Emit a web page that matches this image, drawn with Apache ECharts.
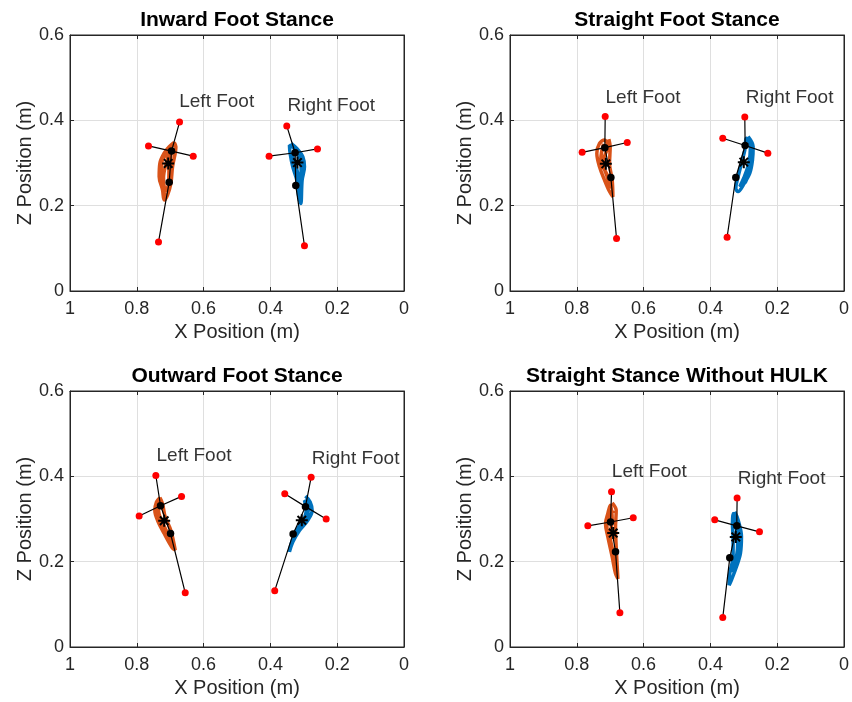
<!DOCTYPE html>
<html>
<head>
<meta charset="utf-8">
<script src="https://cdn.jsdelivr.net/npm/echarts@6/dist/echarts.min.js"></script>
<style>
  html, body { margin: 0; padding: 0; background: #fff; }
  #chart { width: 852px; height: 702px; }
</style>
</head>
<body>
<div id="chart"></div>
<script>
// Panel titles and foot labels
const titles = ['Inward Foot Stance', 'Straight Foot Stance', 'Outward Foot Stance', 'Straight Stance Without HULK'];
const footNames = ['Left Foot', 'Right Foot'];

// Axis ranges and tick step (metres)
const xRange = [0, 1];
const zRange = [0, 0.6];
const tickStep = 0.2;

// Marker positions [x, z] for each foot.
// ends: toe, heel  |  sides: medial/lateral  |  joints: front, rear  |  centre: mean position
const inwardLeftEnds = [[0.672, 0.396], [0.735, 0.115]];
const inwardLeftSides = [[0.765, 0.340], [0.631, 0.316]];
const inwardLeftJoints = [[0.696, 0.328], [0.703, 0.255]];
const inwardLeftCentre = [0.706, 0.299];
const inwardRightEnds = [[0.351, 0.387], [0.298, 0.106]];
const inwardRightSides = [[0.404, 0.316], [0.259, 0.333]];
const inwardRightJoints = [[0.326, 0.324], [0.324, 0.247]];
const inwardRightCentre = [0.319, 0.301];

const straightLeftEnds = [[0.715, 0.409], [0.681, 0.123]];
const straightLeftSides = [[0.784, 0.325], [0.649, 0.348]];
const straightLeftJoints = [[0.716, 0.336], [0.698, 0.266]];
const straightLeftCentre = [0.713, 0.298];
const straightRightEnds = [[0.297, 0.408], [0.350, 0.126]];
const straightRightSides = [[0.363, 0.358], [0.228, 0.323]];
const straightRightJoints = [[0.296, 0.341], [0.324, 0.266]];
const straightRightCentre = [0.300, 0.302];

const outwardLeftEnds = [[0.743, 0.402], [0.655, 0.127]];
const outwardLeftSides = [[0.793, 0.307], [0.666, 0.353]];
const outwardLeftJoints = [[0.729, 0.331], [0.699, 0.266]];
const outwardLeftCentre = [0.718, 0.296];
const outwardRightEnds = [[0.278, 0.398], [0.387, 0.132]];
const outwardRightSides = [[0.357, 0.359], [0.233, 0.300]];
const outwardRightJoints = [[0.295, 0.329], [0.332, 0.265]];
const outwardRightCentre = [0.306, 0.297];

const noHulkLeftEnds = [[0.696, 0.364], [0.671, 0.080]];
const noHulkLeftSides = [[0.767, 0.284], [0.631, 0.303]];
const noHulkLeftJoints = [[0.699, 0.293], [0.684, 0.223]];
const noHulkLeftCentre = [0.691, 0.267];
const noHulkRightEnds = [[0.320, 0.349], [0.363, 0.069]];
const noHulkRightSides = [[0.387, 0.298], [0.253, 0.270]];
const noHulkRightJoints = [[0.321, 0.284], [0.342, 0.209]];
const noHulkRightCentre = [0.324, 0.258];

// Foot label anchor positions [x, z]
const inwardLabels = [[0.673, 0.444], [0.349, 0.434]];
const straightLabels = [[0.714, 0.454], [0.294, 0.454]];
const outwardLabels = [[0.741, 0.448], [0.276, 0.441]];
const noHulkLabels = [[0.695, 0.410], [0.318, 0.395]];

// Recorded position traces [x, z]
const inwardLeftTrace = [[0.688,0.348],[0.683,0.338],[0.693,0.291],[0.698,0.252],[0.708,0.225],[0.718,0.213],[0.723,0.237],[0.733,0.268],[0.731,0.299],[0.718,0.323],[0.703,0.338],[0.688,0.348],[0.700,0.330],[0.712,0.300],[0.720,0.265],[0.714,0.235],[0.705,0.250],[0.703,0.290],[0.695,0.330],[0.722,0.310],[0.727,0.280],[0.716,0.222]];
const inwardRightTrace = [[0.338,0.346],[0.321,0.334],[0.303,0.315],[0.298,0.291],[0.305,0.260],[0.309,0.205],[0.315,0.221],[0.321,0.260],[0.333,0.291],[0.341,0.323],[0.343,0.342],[0.330,0.335],[0.312,0.310],[0.308,0.280],[0.313,0.240],[0.311,0.215],[0.318,0.275],[0.336,0.320]];
const straightLeftTrace = [[0.704,0.356],[0.700,0.338],[0.702,0.299],[0.694,0.260],[0.692,0.221],[0.702,0.233],[0.717,0.260],[0.732,0.291],[0.740,0.323],[0.732,0.346],[0.717,0.354],[0.708,0.340],[0.722,0.300],[0.710,0.270],[0.698,0.240],[0.705,0.265],[0.728,0.310],[0.720,0.345]];
const straightRightTrace = [[0.287,0.362],[0.272,0.338],[0.274,0.307],[0.282,0.276],[0.302,0.248],[0.317,0.233],[0.324,0.241],[0.317,0.268],[0.307,0.299],[0.297,0.330],[0.292,0.358],[0.280,0.340],[0.285,0.300],[0.300,0.265],[0.312,0.245],[0.295,0.255],[0.280,0.290],[0.278,0.330]];
const outwardLeftTrace = [[0.731,0.350],[0.723,0.336],[0.715,0.305],[0.698,0.273],[0.685,0.227],[0.695,0.234],[0.718,0.266],[0.738,0.297],[0.746,0.320],[0.741,0.340],[0.731,0.350],[0.735,0.320],[0.725,0.295],[0.705,0.262],[0.690,0.235],[0.700,0.255],[0.730,0.300],[0.740,0.330]];
const outwardRightTrace = [[0.295,0.354],[0.281,0.340],[0.275,0.320],[0.288,0.297],[0.313,0.273],[0.333,0.246],[0.343,0.223],[0.338,0.242],[0.323,0.266],[0.303,0.293],[0.293,0.320],[0.298,0.344],[0.285,0.325],[0.300,0.300],[0.325,0.270],[0.338,0.240],[0.318,0.275],[0.282,0.315]];
const noHulkLeftTrace = [[0.694,0.338],[0.682,0.320],[0.684,0.281],[0.682,0.234],[0.677,0.160],[0.684,0.172],[0.694,0.211],[0.707,0.258],[0.714,0.289],[0.707,0.313],[0.700,0.332],[0.694,0.300],[0.700,0.260],[0.690,0.220],[0.680,0.190],[0.688,0.200],[0.702,0.245],[0.710,0.285],[0.690,0.320]];
const noHulkRightTrace = [[0.327,0.317],[0.317,0.298],[0.307,0.259],[0.310,0.220],[0.322,0.188],[0.337,0.157],[0.344,0.145],[0.342,0.173],[0.332,0.212],[0.332,0.251],[0.334,0.290],[0.332,0.313],[0.325,0.290],[0.318,0.250],[0.322,0.210],[0.335,0.175],[0.326,0.200],[0.313,0.240],[0.314,0.290]];

// Per-panel grouping of the arrays above
function foot(ends, sides, joints, centre, trace) {
  return { ends, sides, joints, centre, trace };
}
const panels = [
  { left: foot(inwardLeftEnds, inwardLeftSides, inwardLeftJoints, inwardLeftCentre, inwardLeftTrace),
    right: foot(inwardRightEnds, inwardRightSides, inwardRightJoints, inwardRightCentre, inwardRightTrace),
    labels: inwardLabels },
  { left: foot(straightLeftEnds, straightLeftSides, straightLeftJoints, straightLeftCentre, straightLeftTrace),
    right: foot(straightRightEnds, straightRightSides, straightRightJoints, straightRightCentre, straightRightTrace),
    labels: straightLabels },
  { left: foot(outwardLeftEnds, outwardLeftSides, outwardLeftJoints, outwardLeftCentre, outwardLeftTrace),
    right: foot(outwardRightEnds, outwardRightSides, outwardRightJoints, outwardRightCentre, outwardRightTrace),
    labels: outwardLabels },
  { left: foot(noHulkLeftEnds, noHulkLeftSides, noHulkLeftJoints, noHulkLeftCentre, noHulkLeftTrace),
    right: foot(noHulkRightEnds, noHulkRightSides, noHulkRightJoints, noHulkRightCentre, noHulkRightTrace),
    labels: noHulkLabels }
];

// Layout
const FONT = 'Liberation Sans, Arial, Helvetica, sans-serif';
const AX = '#262626';
const GRIDC = '#dfdfdf';
const PW = 334, PH = 256;
const lefts = [70, 510, 70, 510];
const tops = [35, 35, 391, 391];
const ORANGE = '#D95319', BLUE = '#0072BD';
const STAR = 'path://M0,-10L0,10M-10,0L10,0M-7.1,-7.1L7.1,7.1M-7.1,7.1L7.1,-7.1';

const grid = [], xAxis = [], yAxis = [], series = [], title = [];

panels.forEach((p, i) => {
  grid.push({ left: lefts[i], top: tops[i], width: PW, height: PH, show: true,
              borderColor: AX, borderWidth: 1, backgroundColor: '#fff' });
  title.push({ text: titles[i], left: lefts[i] + PW / 2, top: tops[i] - 25, textAlign: 'center', padding: 0,
               textStyle: { fontFamily: FONT, fontWeight: 'bold', fontSize: 21, color: '#000' } });

  const common = { min: xRange[0], max: xRange[1], interval: tickStep };
  // bottom x axis (reversed: 1 on the left, 0 on the right)
  xAxis.push({ ...common, type: 'value', gridIndex: i, inverse: true, position: 'bottom',
    name: 'X Position (m)', nameLocation: 'middle', nameGap: 31,
    nameTextStyle: { fontFamily: FONT, fontSize: 20, color: AX },
    axisLine: { show: true, onZero: false, lineStyle: { color: AX, width: 1 } },
    axisTick: { show: true, inside: true, length: 4, lineStyle: { color: AX } },
    axisLabel: { fontFamily: FONT, fontSize: 18, color: AX, margin: 9, formatter: v => String(+v.toFixed(1)) },
    splitLine: { show: true, lineStyle: { color: GRIDC, width: 1 } } });
  // top x axis: ticks only
  xAxis.push({ ...common, type: 'value', gridIndex: i, inverse: true, position: 'top',
    axisLine: { show: true, onZero: false, lineStyle: { color: AX, width: 1 } },
    axisTick: { show: true, inside: true, length: 4, lineStyle: { color: AX } },
    axisLabel: { show: false }, splitLine: { show: false } });

  const zc = { min: zRange[0], max: zRange[1], interval: tickStep };
  yAxis.push({ ...zc, type: 'value', gridIndex: i, position: 'left',
    name: 'Z Position (m)', nameLocation: 'middle', nameGap: 34, nameRotate: 90,
    nameTextStyle: { fontFamily: FONT, fontSize: 20, color: AX },
    axisLine: { show: true, onZero: false, lineStyle: { color: AX, width: 1 } },
    axisTick: { show: true, inside: true, length: 4, lineStyle: { color: AX } },
    axisLabel: { fontFamily: FONT, fontSize: 18, color: AX, margin: 6, formatter: v => String(+v.toFixed(1)) },
    splitLine: { show: true, lineStyle: { color: GRIDC, width: 1 } } });
  yAxis.push({ ...zc, type: 'value', gridIndex: i, position: 'right',
    axisLine: { show: true, onZero: false, lineStyle: { color: AX, width: 1 } },
    axisTick: { show: true, inside: true, length: 4, lineStyle: { color: AX } },
    axisLabel: { show: false }, splitLine: { show: false } });

  const xi = i * 2, yi = i * 2;
  const base = { xAxisIndex: xi, yAxisIndex: yi, silent: true, animation: false };

  // recorded traces
  [[p.left.trace, ORANGE], [p.right.trace, BLUE]].forEach(([tr, col]) => {
    series.push({ ...base, type: 'line', data: tr, showSymbol: false, smooth: 0.35,
      lineStyle: { color: col, width: 3.5 }, z: 2 });
  });

  // skeleton lines for each foot
  [p.left, p.right].forEach(f => {
    series.push({ ...base, type: 'line', showSymbol: false,
      data: [f.ends[0], f.joints[0], f.joints[1], f.ends[1]],
      lineStyle: { color: '#000', width: 1.2 }, z: 3 });
    series.push({ ...base, type: 'line', showSymbol: false,
      data: [f.sides[0], f.joints[0], f.sides[1]],
      lineStyle: { color: '#000', width: 1.2 }, z: 3 });
  });

  // red end markers
  series.push({ ...base, type: 'scatter', symbol: 'circle', symbolSize: 7,
    data: [...p.left.ends, ...p.left.sides, ...p.right.ends, ...p.right.sides],
    itemStyle: { color: '#ff0000', opacity: 1 }, z: 4 });
  // black joint markers
  series.push({ ...base, type: 'scatter', symbol: 'circle', symbolSize: 7.5,
    data: [...p.left.joints, ...p.right.joints],
    itemStyle: { color: '#000', opacity: 1 }, z: 5 });
  // centre markers (asterisk)
  series.push({ ...base, type: 'scatter', symbol: STAR, symbolSize: 12,
    data: [p.left.centre, p.right.centre],
    itemStyle: { color: 'none', borderColor: '#000', borderWidth: 2, opacity: 1 }, z: 6 });
  // foot labels
  series.push({ ...base, type: 'scatter', symbolSize: 0,
    data: p.labels.map((c, k) => ({ value: c, name: footNames[k] })),
    label: { show: true, position: 'right', distance: 0, formatter: d => d.name,
             fontFamily: FONT, fontSize: 19, color: '#000', textBorderWidth: 0 }, z: 7 });
});

const chart = echarts.init(document.getElementById('chart'), null, { renderer: 'canvas' });
chart.setOption({ backgroundColor: '#fff', animation: false, title, grid, xAxis, yAxis, series });
</script>
</body>
</html>
